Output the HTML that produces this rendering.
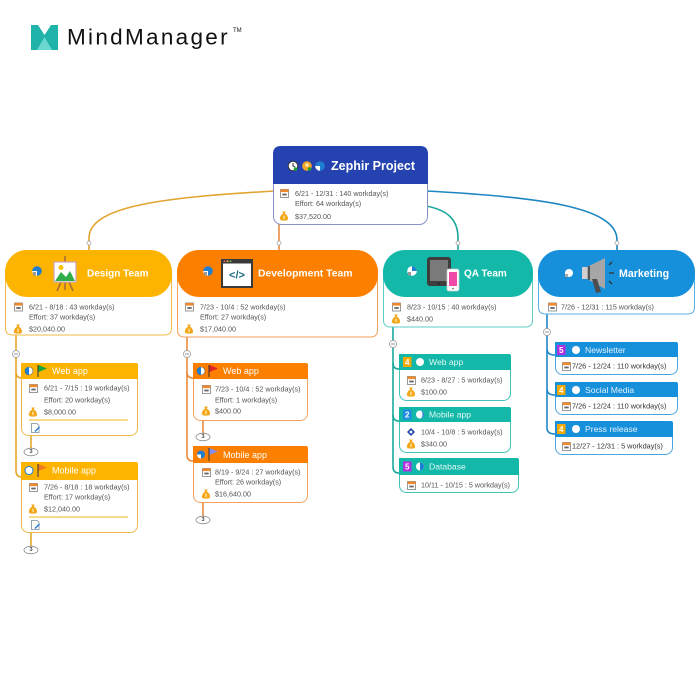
<!DOCTYPE html>
<html><head><meta charset="utf-8"><style>
html,body{margin:0;padding:0;background:#fff;width:700px;height:700px;overflow:hidden}
svg{display:block}
text{font-family:"Liberation Sans","DejaVu Sans",sans-serif}
.d{font-size:7.2px;fill:#555;dominant-baseline:central}
.dm{font-size:7.3px;fill:#333;dominant-baseline:central}
.t{font-size:10px;font-weight:bold;fill:#fff;dominant-baseline:central}
.s{font-size:9px;fill:#fff;dominant-baseline:central}
.sq{font-size:8.6px;fill:#e4f8f5;dominant-baseline:central}
.sm{font-size:8.6px;fill:#e2f1fc;dominant-baseline:central}
.b{font-size:8px;font-weight:bold;fill:#fff;dominant-baseline:central;text-anchor:middle}
.o{font-size:5.5px;fill:#444;dominant-baseline:central;text-anchor:middle;font-weight:bold}
</style></head><body>
<svg width="700" height="700" viewBox="0 0 700 700">
<defs>
<g id="cal"><rect x="0.5" y="0.5" width="8" height="8" fill="#fff" stroke="#808080" stroke-width="0.8"/><rect x="0.5" y="0.5" width="8" height="2.6" fill="#f0892a"/><rect x="2.3" y="4.6" width="4.4" height="1.8" fill="#666"/></g>
<g id="bag"><path d="M2.8,0.5 H6.2 L5.3,2.6 C7.6,3.6 8.6,6.3 8.6,7.6 C8.6,9.1 7.2,9.6 4.5,9.6 C1.8,9.6 0.4,9.1 0.4,7.6 C0.4,6.3 1.4,3.6 3.7,2.6 Z" fill="#f2a618"/><rect x="3.8" y="4.6" width="1.4" height="3.6" fill="#fde6a0"/></g>
<g id="note"><path d="M0.5,0.5 H6 L8,2.5 V9.5 H0.5 Z" fill="#fff" stroke="#7a8a9a" stroke-width="0.8"/><path d="M4,8.5 L8.5,4" stroke="#2a7fd4" stroke-width="1.4"/></g>
<g id="col"><circle r="3.5" fill="#fff" stroke="#999" stroke-width="0.8"/><line x1="-2" y1="0" x2="2" y2="0" stroke="#777" stroke-width="0.8"/></g>
</defs>

<!-- Logo -->
<polygon points="31,25 38,25 44.5,35 51,25 58,25 58,50 31,50" fill="#1fb3aa"/>
<polygon points="37,50 44.5,37 52,50" fill="#6ad8cf"/>
<text x="67" y="44.5" style="font-size:22.5px;letter-spacing:2.3px;fill:#111">MindManager</text>
<text x="233" y="32" style="font-size:6px;fill:#111">TM</text>

<!-- top connectors -->
<g fill="none" stroke-width="1.6">
<path d="M275,191 C170,197 89,205 89,238 L89,250" stroke="#e2a52f"/>
<path d="M279,222 L279,250" stroke="#e98b3d"/>
<path d="M426,206 C448,210 458,220 458,238 L458,250" stroke="#1aa79b"/>
<path d="M426,191 C540,197 617,207 617,240 L617,250" stroke="#1e86c2"/>
</g>
<g fill="#fff" stroke="#999" stroke-width="0.7">
<circle cx="89" cy="243" r="2"/><circle cx="279" cy="243" r="2"/><circle cx="458" cy="243" r="2"/><circle cx="617" cy="243" r="2"/>
</g>

<!-- sub-branch connectors -->
<g fill="none" stroke-width="1.6">
<path d="M16,335 L16,471 Q16,477 22,477" stroke="#e6a72a"/>
<path d="M16,372 Q16,378 22,378" stroke="#e6a72a"/>
<path d="M31,436 L31,448 M31,533 L31,546" stroke="#e6a72a"/>
<path d="M187,337 L187,455 Q187,461 193,461" stroke="#ea8a3c"/>
<path d="M187,372 Q187,378 193,378" stroke="#ea8a3c"/>
<path d="M203,421 L203,433 M203,503 L203,516" stroke="#ea8a3c"/>
<path d="M393,327 L393,467 Q393,473 399,473" stroke="#1aa89b"/>
<path d="M393,363 Q393,369 399,369 M393,415 Q393,421 399,421" stroke="#1aa89b"/>
<path d="M547,314 L547,428 Q547,434 555,434" stroke="#2088c6"/>
<path d="M547,349 Q547,355 555,355 M547,389 Q547,395 555,395" stroke="#2088c6"/>
</g>
<use href="#col" x="16" y="354"/><use href="#col" x="187" y="354"/><use href="#col" x="393" y="344"/><use href="#col" x="547" y="332"/>
<g><ellipse cx="31" cy="452" rx="7" ry="3.8" fill="#fff" stroke="#888" stroke-width="0.8"/><text class="o" x="31" y="452">3</text></g>
<g><ellipse cx="31" cy="550" rx="7" ry="3.8" fill="#fff" stroke="#888" stroke-width="0.8"/><text class="o" x="31" y="550">3</text></g>
<g><ellipse cx="203" cy="437" rx="7" ry="3.8" fill="#fff" stroke="#888" stroke-width="0.8"/><text class="o" x="203" y="437">3</text></g>
<g><ellipse cx="203" cy="520" rx="7" ry="3.8" fill="#fff" stroke="#888" stroke-width="0.8"/><text class="o" x="203" y="520">3</text></g>

<!-- ROOT -->
<rect x="273.5" y="146.5" width="154" height="78" rx="8" fill="#fff" stroke="#8794cc"/>
<path d="M273,154 Q273,146 281,146 H420 Q428,146 428,154 V184 H273 Z" fill="#2443b0"/>
<circle cx="293" cy="166" r="4.8" fill="#fff" stroke="#333" stroke-width="1"/><path d="M293,163 L293,166 L295,167" stroke="#333" stroke-width="1" fill="none"/><circle cx="295.5" cy="169" r="1.8" fill="#22a13a"/>
<circle cx="307" cy="166" r="4.8" fill="#f5a623"/><circle cx="307" cy="165" r="1.8" fill="#fde0b0"/><circle cx="309.5" cy="169" r="1.8" fill="#22a13a"/>
<circle cx="320" cy="166" r="4.8" fill="#1e7fd0"/><path d="M320,166 L315.2,166 A4.8,4.8 0 0 0 320,170.8 Z" fill="#fff"/><path d="M320,166 L320,161.2 A4.8,4.8 0 0 1 324.8,166 Z" fill="#fff" opacity="0.0"/>
<text x="331" y="166" style="font-size:12.5px;font-weight:bold;fill:#fff;dominant-baseline:central">Zephir Project</text>
<use href="#cal" x="280" y="189"/>
<text class="d" x="295" y="193.5">6/21 - 12/31 : 140 workday(s)</text>
<text class="d" x="295" y="203.5">Effort: 64 workday(s)</text>
<use href="#bag" x="279.5" y="211"/>
<text class="d" x="295" y="216.5">$37,520.00</text>

<!-- DESIGN TEAM -->
<path d="M5.5,272 A22,22 0 0 1 27.5,250.5 H149.5 A22,22 0 0 1 171.5,272 V328 Q171.5,335 164.5,335 H12.5 Q5.5,335 5.5,328 Z" fill="#fff" stroke="#f0bb45"/>
<rect x="5" y="250" width="167" height="47" rx="22" fill="#fdb400"/>
<circle cx="37" cy="271" r="4.8" fill="#1e7fd0"/><path d="M37,271 L32.2,271 A4.8,4.8 0 0 0 37,275.8 Z" fill="#fff"/><rect x="33" y="272" width="3" height="3.5" fill="#999"/>
<line x1="65" y1="256" x2="65" y2="262" stroke="#a86e3c" stroke-width="1.6"/>
<line x1="61" y1="282" x2="57" y2="291" stroke="#a86e3c" stroke-width="1.6"/>
<line x1="69" y1="282" x2="73" y2="291" stroke="#a86e3c" stroke-width="1.6"/>
<line x1="65" y1="282" x2="65" y2="290" stroke="#a86e3c" stroke-width="1.6"/>
<rect x="54" y="262" width="22" height="20" fill="#fff" stroke="#c9a3ba" stroke-width="1.2"/>
<polygon points="55,281 61,272 66,277 70,271 75,281" fill="#2fae4a"/>
<circle cx="61" cy="267.5" r="2.5" fill="#f6c400"/>
<text class="t" x="87" y="274">Design Team</text>
<use href="#cal" x="14" y="302.5"/>
<text class="d" x="29" y="307">6/21 - 8/18 : 43 workday(s)</text>
<text class="d" x="29" y="317">Effort: 37 workday(s)</text>
<use href="#bag" x="13.5" y="324"/>
<text class="d" x="29" y="329">$20,040.00</text>

<!-- DEVELOPMENT TEAM -->
<path d="M177.5,272 A22,22 0 0 1 199.5,250.5 H355.5 A22,22 0 0 1 377.5,272 V330 Q377.5,337 370.5,337 H184.5 Q177.5,337 177.5,330 Z" fill="#fff" stroke="#f2a25c"/>
<rect x="177" y="250" width="201" height="47" rx="22" fill="#fd7f00"/>
<circle cx="208" cy="271" r="4.8" fill="#1e7fd0"/><path d="M208,271 L203.2,271 A4.8,4.8 0 0 0 208,275.8 Z" fill="#fff"/><rect x="204" y="272" width="3" height="3.5" fill="#999"/>
<rect x="222" y="260" width="30" height="27" fill="#fff" stroke="#3a3a3a" stroke-width="2"/>
<rect x="221" y="259" width="32" height="4.5" fill="#3a3a3a"/>
<circle cx="224.5" cy="261.2" r="0.9" fill="#f55"/><circle cx="227.5" cy="261.2" r="0.9" fill="#fc3"/><circle cx="230.5" cy="261.2" r="0.9" fill="#5c5"/>
<text x="237" y="275.5" style="font-size:11px;font-weight:bold;fill:#1b6a85;text-anchor:middle;dominant-baseline:central">&lt;/&gt;</text>
<text class="t" x="258" y="274" style="font-size:10.4px">Development Team</text>
<use href="#cal" x="185" y="302.5"/>
<text class="d" x="200" y="307">7/23 - 10/4 : 52 workday(s)</text>
<text class="d" x="200" y="317">Effort: 27 workday(s)</text>
<use href="#bag" x="184.5" y="324"/>
<text class="d" x="200" y="329">$17,040.00</text>

<!-- QA TEAM -->
<path d="M383.5,272 A22,22 0 0 1 405.5,250.5 H510.5 A22,22 0 0 1 532.5,272 V320 Q532.5,327 525.5,327 H390.5 Q383.5,327 383.5,320 Z" fill="#fff" stroke="#5fcdc3"/>
<rect x="383" y="250" width="150" height="47" rx="22" fill="#13b8a9"/>
<circle cx="412" cy="271" r="4.8" fill="#fff"/><path d="M412,271 L412,266.2 A4.8,4.8 0 0 1 416.8,271 Z" fill="#1e7fd0"/><rect x="408" y="272" width="3" height="3.5" fill="#999"/>
<rect x="427" y="257" width="24" height="29" rx="3" fill="#3d3d3d"/>
<rect x="430" y="260" width="18" height="21" fill="#7a7a7a"/>
<circle cx="439" cy="283.5" r="1" fill="#222"/>
<rect x="447" y="269" width="12" height="22" rx="2" fill="#fff" stroke="#ccc" stroke-width="0.8"/>
<rect x="449" y="272" width="8" height="14" fill="#f04aa8"/>
<circle cx="453" cy="288.5" r="0.8" fill="#555"/>
<text class="t" x="464" y="274">QA Team</text>
<use href="#cal" x="392" y="302.5"/>
<text class="d" x="407" y="307">8/23 - 10/15 : 40 workday(s)</text>
<use href="#bag" x="391.5" y="314"/>
<text class="d" x="407" y="319">$440.00</text>

<!-- MARKETING -->
<path d="M538.5,272 A22,22 0 0 1 560.5,250.5 H672.5 A22,22 0 0 1 694.5,272 V307 Q694.5,314 687.5,314 H545.5 Q538.5,314 538.5,307 Z" fill="#fff" stroke="#5aaee4"/>
<rect x="538" y="250" width="157" height="47" rx="22" fill="#1790dc"/>
<circle cx="569" cy="273" r="4" fill="#fff"/><rect x="565" y="274" width="3" height="3" fill="#aaa"/>
<rect x="582" y="267" width="5" height="12" fill="#d0d0d0"/>
<polygon points="587,267 605,258 605,289 587,279" fill="#a6a6a6"/>
<rect x="588" y="266" width="2" height="14" fill="#555"/>
<polygon points="592,279 597,279 601,292 596,293" fill="#4d4d4d"/>
<g stroke="#333" stroke-width="1.3"><line x1="609" y1="265" x2="612" y2="262"/><line x1="609" y1="273" x2="614" y2="273"/><line x1="609" y1="281" x2="612" y2="284"/></g>
<text class="t" x="619" y="274" style="font-size:10.6px">Marketing</text>
<use href="#cal" x="548" y="302.5"/>
<text class="d" x="561" y="307">7/26 - 12/31 : 115 workday(s)</text>

<!-- DESIGN: Web app -->
<rect x="21.5" y="363.5" width="116" height="72" rx="7" fill="#fff" stroke="#eeb84a"/>
<path d="M21,363 H136 Q138,363 138,365 V379 H21 Z" fill="#fdb400"/>
<circle cx="29" cy="371" r="4" fill="#fff" stroke="#555" stroke-width="0.6"/><path d="M29,367 A4,4 0 0 0 29,375 Z" fill="#1e7fd0"/>
<line x1="38" y1="365" x2="38" y2="377" stroke="#333" stroke-width="1"/><polygon points="38.5,365 47,368.5 38.5,372" fill="#1aa83a"/>
<text class="s" x="52" y="371">Web app</text>
<use href="#cal" x="29" y="384"/>
<text class="d" x="44" y="388">6/21 - 7/15 : 19 workday(s)</text>
<text class="d" x="44" y="400">Effort: 20 workday(s)</text>
<use href="#bag" x="28.5" y="407"/>
<text class="d" x="44" y="412">$8,000.00</text>
<line x1="29" y1="420" x2="128" y2="420" stroke="#f6cf60" stroke-width="1.5"/>
<use href="#note" x="31" y="423"/>

<!-- DESIGN: Mobile app -->
<rect x="21.5" y="462.5" width="116" height="70" rx="7" fill="#fff" stroke="#eeb84a"/>
<path d="M21,462 H136 Q138,462 138,464 V480 H21 Z" fill="#fdb400"/>
<circle cx="29" cy="470.5" r="4" fill="#fff" stroke="#1e7fd0" stroke-width="1"/>
<line x1="38" y1="464" x2="38" y2="477" stroke="#333" stroke-width="1"/><polygon points="38.5,464 47,467.5 38.5,471" fill="#f07a20"/>
<text class="s" x="52" y="470.5">Mobile app</text>
<use href="#cal" x="29" y="483"/>
<text class="d" x="44" y="487">7/26 - 8/18 : 18 workday(s)</text>
<text class="d" x="44" y="497">Effort: 17 workday(s)</text>
<use href="#bag" x="28.5" y="504"/>
<text class="d" x="44" y="509">$12,040.00</text>
<line x1="29" y1="517" x2="128" y2="517" stroke="#f6cf60" stroke-width="1.5"/>
<use href="#note" x="31" y="520"/>

<!-- DEV: Web app -->
<rect x="193.5" y="363.5" width="114" height="57" rx="7" fill="#fff" stroke="#f2a25c"/>
<path d="M193,363 H306 Q308,363 308,365 V379 H193 Z" fill="#fd7f00"/>
<circle cx="201" cy="371" r="4" fill="#fff" stroke="#555" stroke-width="0.6"/><path d="M201,367 A4,4 0 0 0 201,375 Z" fill="#1e7fd0"/>
<line x1="209" y1="365" x2="209" y2="377" stroke="#333" stroke-width="1"/><polygon points="209.5,365 218,368.5 209.5,372" fill="#e02424"/>
<text class="s" x="223" y="371">Web app</text>
<use href="#cal" x="202" y="385"/>
<text class="d" x="215" y="389">7/23 - 10/4 : 52 workday(s)</text>
<text class="d" x="215" y="400">Effort: 1 workday(s)</text>
<use href="#bag" x="201.5" y="406"/>
<text class="d" x="215" y="411">$400.00</text>

<!-- DEV: Mobile app -->
<rect x="193.5" y="446.5" width="114" height="56" rx="7" fill="#fff" stroke="#f2a25c"/>
<path d="M193,446 H306 Q308,446 308,448 V463 H193 Z" fill="#fd7f00"/>
<circle cx="201" cy="454.5" r="4" fill="#1e7fd0"/><path d="M201,454.5 L197,454.5 A4,4 0 0 0 201,458.5 Z" fill="#fff"/>
<line x1="209" y1="448" x2="209" y2="461" stroke="#333" stroke-width="1"/><polygon points="209.5,448 218,451.5 209.5,455" fill="#8a8ee8"/>
<text class="s" x="223" y="455">Mobile app</text>
<use href="#cal" x="202" y="468"/>
<text class="d" x="215" y="472">8/19 - 9/24 : 27 workday(s)</text>
<text class="d" x="215" y="482">Effort: 26 workday(s)</text>
<use href="#bag" x="201.5" y="489"/>
<text class="d" x="215" y="494">$16,640.00</text>

<!-- QA: Web app -->
<rect x="399.5" y="354.5" width="111" height="46" rx="7" fill="#fff" stroke="#3fc3b7"/>
<path d="M399,354 H509 Q511,354 511,356 V370 H399 Z" fill="#13b8a9"/>
<rect x="403" y="357" width="8.5" height="10" fill="#f5a800"/><text class="b" x="407.2" y="362.3">4</text>
<circle cx="420" cy="362" r="4" fill="#fff"/>
<text class="sq" x="429" y="362">Web app</text>
<use href="#cal" x="407" y="376"/>
<text class="d" x="421" y="380">8/23 - 8/27 : 5 workday(s)</text>
<use href="#bag" x="406.5" y="387"/>
<text class="d" x="421" y="392">$100.00</text>

<!-- QA: Mobile app -->
<rect x="399.5" y="407.5" width="111" height="45" rx="7" fill="#fff" stroke="#3fc3b7"/>
<path d="M399,407 H509 Q511,407 511,409 V422 H399 Z" fill="#13b8a9"/>
<rect x="403" y="409.5" width="8.5" height="10" fill="#1d8be0"/><text class="b" x="407.2" y="414.8">2</text>
<circle cx="420" cy="414.5" r="4" fill="#fff"/><path d="M420,410.5 A4,4 0 0 1 420,418.5 A2.5,4 0 0 0 420,410.5 Z" fill="#1e7fd0"/>
<text class="sq" x="429" y="414.5">Mobile app</text>
<polygon points="411,428 415,432 411,436 407,432" fill="#2244aa"/><circle cx="411" cy="432" r="1.4" fill="#fff"/>
<text class="d" x="421" y="432">10/4 - 10/8 : 5 workday(s)</text>
<use href="#bag" x="406.5" y="439"/>
<text class="d" x="421" y="444">$340.00</text>

<!-- QA: Database -->
<rect x="399.5" y="458.5" width="119" height="34" rx="7" fill="#fff" stroke="#3fc3b7"/>
<path d="M399,458 H517 Q519,458 519,460 V475 H399 Z" fill="#13b8a9"/>
<rect x="403" y="461.5" width="8.5" height="10" fill="#b02fe0"/><text class="b" x="407.2" y="466.8">5</text>
<circle cx="420" cy="466.5" r="4" fill="#fff"/><path d="M420,462.5 A4,4 0 0 1 420,470.5 Z" fill="#1e7fd0"/>
<text class="sq" x="429" y="466.5">Database</text>
<use href="#cal" x="407" y="481"/>
<text class="d" x="421" y="485">10/11 - 10/15 : 5 workday(s)</text>

<!-- MKT: Newsletter -->
<rect x="555.5" y="342.5" width="122" height="32" rx="7" fill="#fff" stroke="#4aa6e0"/>
<path d="M555,342 H676 Q678,342 678,344 V357 H555 Z" fill="#1790dc"/>
<rect x="557" y="345" width="8.5" height="10" fill="#b02fe0"/><text class="b" x="561.2" y="350.3">5</text>
<circle cx="576" cy="350" r="4" fill="#fff"/>
<text class="sm" x="585" y="350">Newsletter</text>
<use href="#cal" x="562" y="362"/>
<text class="dm" x="572" y="366">7/26 - 12/24 : 110 workday(s)</text>

<!-- MKT: Social Media -->
<rect x="555.5" y="382.5" width="122" height="32" rx="7" fill="#fff" stroke="#4aa6e0"/>
<path d="M555,382 H676 Q678,382 678,384 V397 H555 Z" fill="#1790dc"/>
<rect x="557" y="385" width="8.5" height="10" fill="#f5a800"/><text class="b" x="561.2" y="390.3">4</text>
<circle cx="576" cy="390" r="4" fill="#fff"/>
<text class="sm" x="585" y="390">Social Media</text>
<use href="#cal" x="562" y="402"/>
<text class="dm" x="572" y="406">7/26 - 12/24 : 110 workday(s)</text>

<!-- MKT: Press release -->
<rect x="555.5" y="421.5" width="117" height="33" rx="7" fill="#fff" stroke="#4aa6e0"/>
<path d="M555,421 H671 Q673,421 673,423 V437 H555 Z" fill="#1790dc"/>
<rect x="557" y="424" width="8.5" height="10" fill="#f5a800"/><text class="b" x="561.2" y="429.3">4</text>
<circle cx="576" cy="429" r="4" fill="#fff"/>
<text class="sm" x="585" y="429">Press release</text>
<use href="#cal" x="562" y="442"/>
<text class="dm" x="572" y="446">12/27 - 12/31 : 5 workday(s)</text>
</svg>
</body></html>
